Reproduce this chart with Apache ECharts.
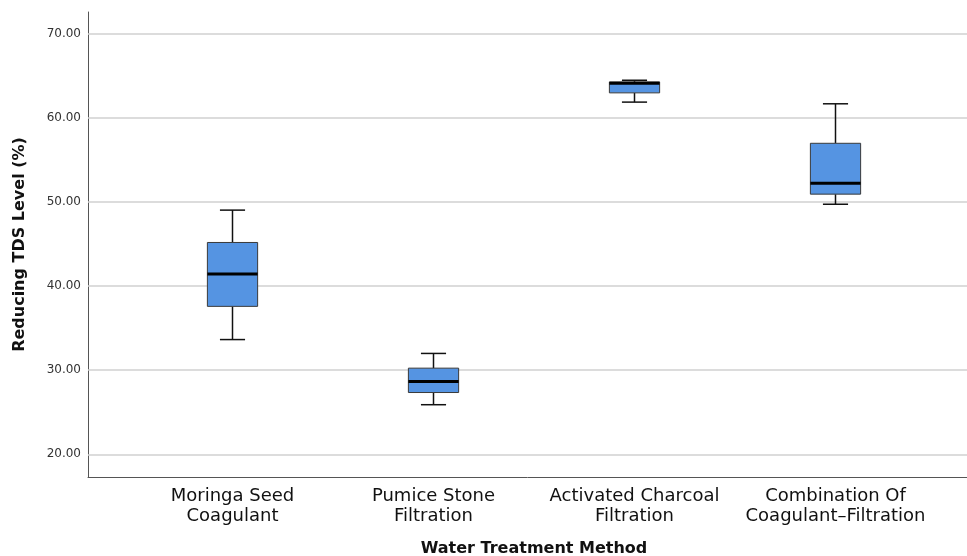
<!DOCTYPE html>
<html>
<head>
<meta charset="utf-8">
<script src="https://cdn.jsdelivr.net/npm/echarts@6/dist/echarts.min.js"></script>
<style>
  html, body { margin: 0; padding: 0; background: #fff; }
  #main { width: 967px; height: 556px; }
</style>
</head>
<body>
<div id="main"></div>
<script>
// categories and the five-number summary
var categories = ['Moringa Seed\nCoagulant', 'Pumice Stone\nFiltration', 'Activated Charcoal\nFiltration', 'Combination Of\nCoagulant\u2013Filtration'];
var whiskerLow  = [33.65, 25.9, 61.9, 49.75];
var q1          = [37.6, 27.35, 63.0, 50.95];
var median      = [41.45, 28.65, 64.15, 52.25];
var q3          = [45.2, 30.25, 64.3, 57.0];
var whiskerHigh = [49.05, 32.0, 64.5, 61.7];
var yTicks = [20, 30, 40, 50, 60, 70];

var yMin = 17.3, yMax = 72.62;
var font = 'DejaVu Sans';

var boxData = categories.map(function (c, i) {
	return [i, whiskerLow[i], q1[i], median[i], q3[i], whiskerHigh[i]];
});

var chart = echarts.init(document.getElementById('main'));

function renderBox(params, api) {
	var i = api.value(0);
	var lo = api.coord([i, api.value(1)]);
	var b1 = api.coord([i, api.value(2)]);
	var md = api.coord([i, api.value(3)]);
	var b3 = api.coord([i, api.value(4)]);
	var hi = api.coord([i, api.value(5)]);
	var band = api.size([1, 0])[0];
	var hw = band * 0.125, cw = band * 0.0625;
	var cx = lo[0];
	var wStyle = { stroke: '#111', lineWidth: 1.5 };
	return {
		type: 'group',
		children: [
			{ type: 'line', shape: { x1: cx, y1: b3[1], x2: cx, y2: hi[1] }, style: wStyle },
			{ type: 'line', shape: { x1: cx - cw, y1: hi[1], x2: cx + cw, y2: hi[1] }, style: wStyle },
			{ type: 'line', shape: { x1: cx, y1: b1[1], x2: cx, y2: lo[1] }, style: wStyle },
			{ type: 'line', shape: { x1: cx - cw, y1: lo[1], x2: cx + cw, y2: lo[1] }, style: wStyle },
			{ type: 'rect', shape: { x: cx - hw, y: b3[1], width: hw * 2, height: b1[1] - b3[1] },
				style: { fill: '#5594E2', stroke: '#3a3a3a', lineWidth: 1 } },
			{ type: 'line', shape: { x1: cx - hw, y1: md[1], x2: cx + hw, y2: md[1] },
				style: { stroke: '#000', lineWidth: 3 } }
		]
	};
}

var option = {
	animation: false,
	grid: [
		// frame grid: axis lines, tick labels, gridlines
		{ left: 88, right: 0, top: 12, bottom: 79, outerBoundsMode: 'none' },
		// box grid: category bands are inset from the frame
		{ left: 132, right: 31, top: 12, bottom: 79, outerBoundsMode: 'none' }
	],
	xAxis: [
		{
			type: 'value', gridIndex: 0, min: 0, max: 1,
			axisLine: { show: true, lineStyle: { color: '#555', width: 1 } },
			axisTick: { show: false }, axisLabel: { show: false }, splitLine: { show: false }
		},
		{
			type: 'category', gridIndex: 1, data: categories,
			axisLine: { show: false }, axisTick: { show: false },
			axisLabel: { interval: 0, margin: 9, fontFamily: font, fontSize: 18, lineHeight: 20, color: '#111' },
			name: 'Water Treatment Method', nameLocation: 'middle', nameGap: 64,
			nameTextStyle: { fontFamily: font, fontWeight: 'bold', fontSize: 16, color: '#111' }
		}
	],
	yAxis: [
		{
			type: 'value', gridIndex: 0, min: yMin, max: yMax,
			axisLine: { show: true, lineStyle: { color: '#555', width: 1 } },
			axisTick: { show: false }, splitLine: { show: false },
			axisLabel: {
				showMinLabel: false, showMaxLabel: false, margin: 7,
				fontFamily: font, fontSize: 12, color: '#333',
				formatter: function (v) {
					for (var k = 0; k < yTicks.length; k++) {
						if (Math.abs(v - yTicks[k]) < 1e-6) return yTicks[k].toFixed(2);
					}
					return '';
				}
			},
			name: 'Reducing TDS Level (%)', nameLocation: 'middle', nameGap: 60,
			nameTextStyle: { fontFamily: font, fontWeight: 'bold', fontSize: 16, color: '#111' }
		},
		{
			type: 'value', gridIndex: 1, min: yMin, max: yMax, show: false
		}
	],
	series: [
		{
			type: 'line', xAxisIndex: 0, yAxisIndex: 0, data: [], z: 0, silent: true,
			markLine: {
				silent: true, symbol: ['none', 'none'], label: { show: false },
				lineStyle: { color: '#d0d0d0', width: 1.5, type: 'solid' },
				data: yTicks.map(function (v) { return { yAxis: v }; })
			}
		},
		{
			type: 'custom', xAxisIndex: 1, yAxisIndex: 1, z: 5,
			renderItem: renderBox,
			encode: { x: 0, y: [1, 2, 3, 4, 5] },
			data: boxData
		}
	]
};

chart.setOption(option);
</script>
</body>
</html>
